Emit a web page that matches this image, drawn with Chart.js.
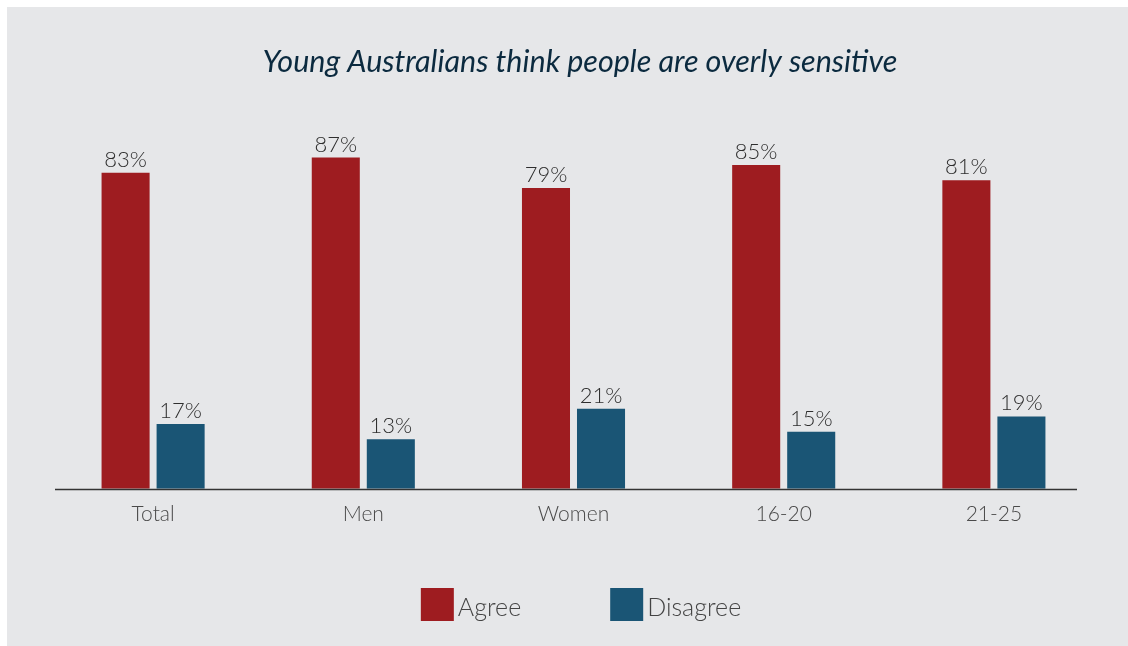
<!DOCTYPE html>
<html>
<head>
<meta charset="utf-8">
<script src="https://cdn.jsdelivr.net/npm/chart.js@4.4.1/dist/chart.umd.min.js"></script>
<style>
  html, body { margin: 0; padding: 0; background: #ffffff; }
  #wrap { position: relative; width: 1128px; height: 646px; }
</style>
</head>
<body>
<div id="wrap"><canvas id="grafica"></canvas></div>
<script>
  // Datos de la encuesta
  const categorias = ["Total", "Men", "Women", "16-20", "21-25"];
  const deAcuerdo = [83, 87, 79, 85, 81];
  const enDesacuerdo = [17, 13, 21, 15, 19];
  const etiquetasSeries = ["Agree", "Disagree"];
  const TITULO = "Young Australians think people are overly sensitive";

  const COLOR_ROJO = "#9e1c20";
  const COLOR_AZUL = "#1a5575";
  const COLOR_FONDO = "#e6e7e9";
  const FUENTE = "Lato, 'Open Sans', sans-serif";

  // Fondo gris con margen blanco arriba e izquierda
  const fondo = {
    id: "fondo",
    beforeDraw(chart) {
      const { ctx, width, height } = chart;
      ctx.save();
      ctx.fillStyle = COLOR_FONDO;
      ctx.fillRect(7, 7, width - 7, height - 7);
      ctx.restore();
    }
  };

  // Titulo centrado sobre el bloque de barras y leyenda
  const titulo = {
    id: "titulo",
    afterDraw(chart) {
      const { ctx } = chart;
      ctx.save();
      ctx.fillStyle = "#0b2a3f";
      ctx.font = `italic 400 30.5px ${FUENTE}`;
      ctx.textAlign = "center";
      ctx.textBaseline = "middle";
      ctx.fillText(TITULO, 580, 62);
      ctx.restore();
    }
  };

  // Linea base bajo las barras
  const lineaBase = {
    id: "lineaBase",
    afterDatasetsDraw(chart) {
      const { ctx, chartArea, scales } = chart;
      const y = Math.round(scales.y.getPixelForValue(0)) + 0.5;
      ctx.save();
      ctx.strokeStyle = "#333333";
      ctx.lineWidth = 1.6;
      ctx.beginPath();
      ctx.moveTo(chartArea.left + 7, y);
      ctx.lineTo(chartArea.right - 22, y);
      ctx.stroke();
      ctx.restore();
    }
  };

  // Porcentajes encima de cada barra
  const etiquetasValor = {
    id: "etiquetasValor",
    afterDatasetsDraw(chart) {
      const { ctx } = chart;
      ctx.save();
      ctx.fillStyle = "#2e2e2e";
      ctx.font = `300 22px ${FUENTE}`;
      ctx.textAlign = "center";
      ctx.textBaseline = "alphabetic";
      chart.data.datasets.forEach((ds, di) => {
        chart.getDatasetMeta(di).data.forEach((bar, i) => {
          ctx.fillText(`${ds.data[i]}%`, bar.x, bar.y - 6);
        });
      });
      ctx.restore();
    }
  };

  // Leyenda propia: cuadros grandes y texto pegado
  const leyenda = {
    id: "leyenda",
    afterDraw(chart) {
      const { ctx } = chart;
      const caja = 33, hueco = 4, separacion = 89;
      ctx.save();
      ctx.font = `300 25px ${FUENTE}`;
      const anchos = chart.data.datasets.map(ds => caja + hueco + ctx.measureText(ds.label).width);
      const total = anchos.reduce((a, b) => a + b, 0) + separacion * (anchos.length - 1);
      let x = 581 - total / 2;
      const top = 588;
      chart.data.datasets.forEach((ds, i) => {
        ctx.fillStyle = ds.backgroundColor;
        ctx.fillRect(x, top, caja, caja);
        ctx.fillStyle = "#444444";
        ctx.textBaseline = "alphabetic";
        ctx.textAlign = "left";
        ctx.fillText(ds.label, x + caja + hueco, top + 28);
        x += anchos[i] + separacion;
      });
      ctx.restore();
    }
  };

  new Chart(document.getElementById("grafica"), {
    type: "bar",
    data: {
      labels: categorias,
      datasets: [
        { label: etiquetasSeries[0], data: deAcuerdo, backgroundColor: COLOR_ROJO },
        { label: etiquetasSeries[1], data: enDesacuerdo, backgroundColor: COLOR_AZUL }
      ]
    },
    options: {
      responsive: true,
      maintainAspectRatio: false,
      animation: false,
      categoryPercentage: 0.5236,
      barPercentage: 0.873,
      layout: { padding: { left: 48, right: 29, top: 108, bottom: 106 } },
      plugins: {
        legend: { display: false },
        tooltip: { enabled: false },
        title: { display: false }
      },
      scales: {
        y: {
          display: false,
          min: 0,
          max: 100
        },
        x: {
          grid: { display: false, drawTicks: false },
          border: { display: false },
          ticks: {
            color: "#4a4a4a",
            padding: 13,
            font: { family: FUENTE, size: 21, weight: "300" }
          }
        }
      }
    },
    plugins: [fondo, titulo, lineaBase, etiquetasValor, leyenda]
  });
</script>
</body>
</html>
